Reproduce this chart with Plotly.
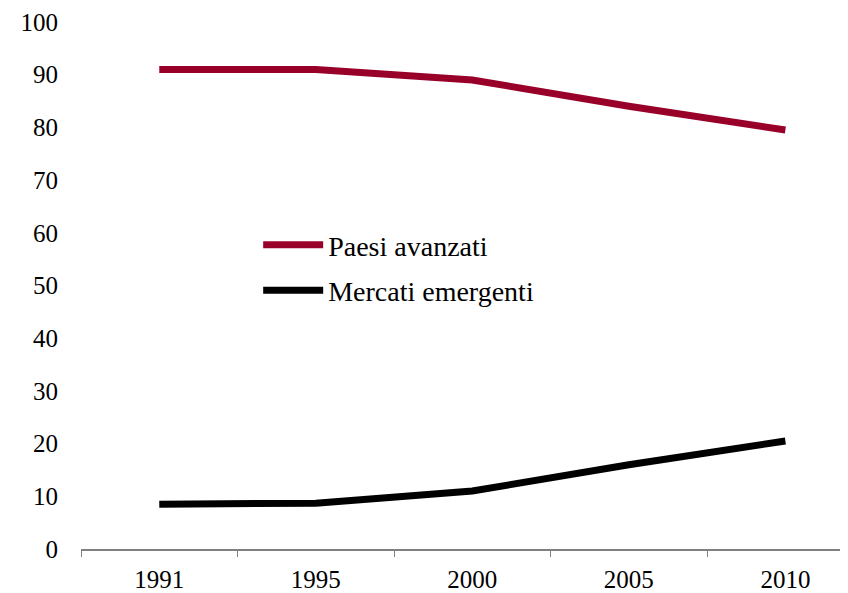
import plotly.graph_objects as go

years = ["1991", "1995", "2000", "2005", "2010"]
paesi_avanzati = [91, 91, 89, 84, 79.5]
mercati_emergenti = [8.5, 8.7, 11, 16, 20.5]

serif = "Liberation Serif, Times New Roman, serif"
tick_font = dict(family=serif, size=25, color="black")
legend_font = dict(family=serif, size=28, color="black")

fig = go.Figure()
fig.add_trace(go.Scatter(x=years, y=paesi_avanzati, mode="lines", name="Paesi avanzati",
                         legendgroup="a", line=dict(color="#990029", width=7)))
fig.add_trace(go.Scatter(x=years, y=mercati_emergenti, mode="lines", name="Mercati emergenti",
                         legendgroup="b", line=dict(color="black", width=7)))

# the page body adds an 8px offset, so the figure is 8px smaller than the window
fig.update_layout(
    width=840, height=585,
    margin=dict(l=73, r=0, t=14, b=44),
    plot_bgcolor="white", paper_bgcolor="white",
    font=tick_font,
    showlegend=True,
    legend=dict(x=0.231, y=0.624, xanchor="left", yanchor="top",
                bgcolor="rgba(0,0,0,0)", font=legend_font, itemwidth=60,
                traceorder="grouped", tracegroupgap=6),
)
fig.update_xaxes(type="category", range=[-0.5, 4.4], showline=True, linecolor="#808080",
                 linewidth=1.5, ticks="outside", tickson="boundaries", ticklen=6,
                 tickcolor="#808080", showgrid=False, automargin=False,
                 tickfont=tick_font, ticklabelstandoff=7)
fig.update_yaxes(range=[0, 100], dtick=10, showline=False, showgrid=False, zeroline=False,
                 ticks="", ticklabelstandoff=22, automargin=False, tickfont=tick_font)

fig.write_html("out.html")
